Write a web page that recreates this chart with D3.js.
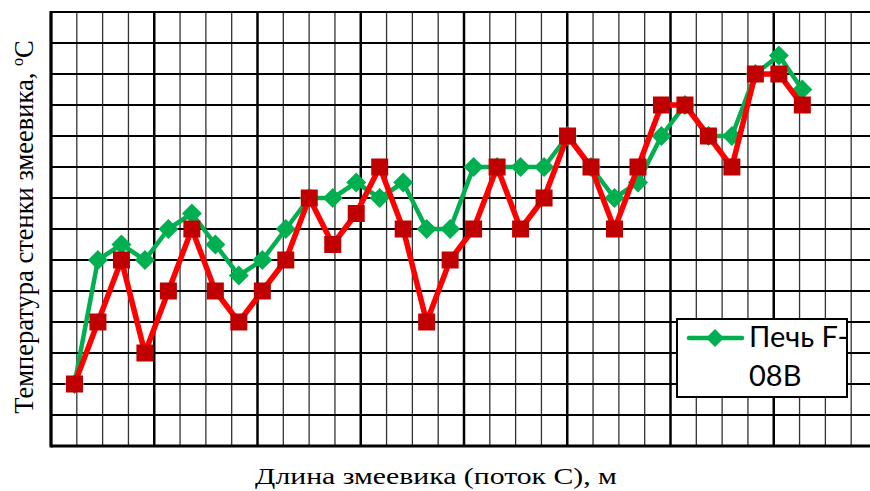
<!DOCTYPE html>
<html>
<head>
<meta charset="utf-8">
<script src="https://cdn.jsdelivr.net/npm/d3@7"></script>
<style>
  html, body { margin: 0; padding: 0; background: #fff; }
  svg { display: block; }
</style>
</head>
<body>
<svg id="chart" width="870" height="491"></svg>
<script>
// ---- data (values in chart grid units) ----
const categories = [1,2,3,4,5,6,7,8,9,10,11,12,13,14,15,16,17,18,19,20,21,22,23,24,25,26,27,28,29,30,31,32];
const greenValues = [2,6,6.5,6,7,7.5,6.5,5.5,6,7,8,8,8.5,8,8.5,7,7,9,9,9,9,10,9,8,8.5,10,11,10,10,12,12.6,11.5];
const redValues   = [2,4,6,3,5,7,5,4,5,6,8,6.5,7.5,9,7,4,6,7,9,7,8,10,9,7,9,11,11,10,9,12,12,11];
const yDomain = [0, 14];
const gridColumns = 32;
const legendLines = ["Печь F-", "08B"];
const xTitle = "Длина змеевика (поток С), м";
const yTitleMain = "Температура стенки змеевика, ";
const yTitleSup = "o";
const yTitleEnd = "С";

// ---- layout ----
const svg = d3.select("#chart");
const L = 51, R = 877, T = 12, B = 446;

const x = d3.scaleLinear().domain([0, 35.18]).range([L, R]);
const gx = d3.scaleLinear().domain([0, gridColumns]).range([L, R]);
const y = d3.scaleLinear().domain(yDomain).range([B, T]);

const grid = svg.append("g");
// vertical grid
grid.selectAll("line.v").data(d3.range(gridColumns + 1)).join("line")
  .attr("x1", d => gx(d)).attr("x2", d => gx(d))
  .attr("y1", T).attr("y2", B)
  .attr("stroke", d => d % 4 === 0 ? "#000" : "#333")
  .attr("stroke-width", d => d % 4 === 0 ? 2.5 : 1.3);
// horizontal grid
grid.selectAll("line.h").data(y.ticks(14)).join("line")
  .attr("x1", L).attr("x2", R)
  .attr("y1", d => y(d)).attr("y2", d => y(d))
  .attr("stroke", "#000")
  .attr("stroke-width", d => d === 0 ? 3 : 2);
// left axis line
grid.append("line").attr("x1", L).attr("x2", L).attr("y1", T - 1).attr("y2", B + 1.5)
  .attr("stroke", "#000").attr("stroke-width", 3);

// ---- series ----
const greenColor = "#00B050";
const redLine = "#FF0000";
const redMarker = "#C00000";

const line = (vals) => d3.line().x((d, i) => x(categories[i])).y(d => y(d))(vals);

svg.append("path").attr("d", line(greenValues))
  .attr("fill", "none").attr("stroke", greenColor).attr("stroke-width", 4.5)
  .attr("stroke-linejoin", "round");
const dSize = 10;
svg.append("g").selectAll("path").data(greenValues).join("path")
  .attr("d", `M0,${-dSize} L${dSize},0 L0,${dSize} L${-dSize},0 Z`)
  .attr("transform", (d, i) => `translate(${x(categories[i])},${y(d)})`)
  .attr("fill", greenColor);

svg.append("path").attr("d", line(redValues))
  .attr("fill", "none").attr("stroke", redLine).attr("stroke-width", 5.5)
  .attr("stroke-linejoin", "round");
const sq = 17;
svg.append("g").selectAll("rect").data(redValues).join("rect")
  .attr("x", (d, i) => x(categories[i]) - sq / 2)
  .attr("y", d => y(d) - sq / 2)
  .attr("width", sq).attr("height", sq)
  .attr("fill", redMarker);

// ---- legend ----
const lg = svg.append("g");
lg.append("rect").attr("x", 677).attr("y", 319).attr("width", 170).attr("height", 78)
  .attr("fill", "#fff").attr("stroke", "#000").attr("stroke-width", 2);
lg.append("line").attr("x1", 689).attr("x2", 742).attr("y1", 338).attr("y2", 338)
  .attr("stroke", greenColor).attr("stroke-width", 4.5).attr("stroke-linecap", "round");
lg.append("path").attr("d", `M0,-9 L9,0 L0,9 L-9,0 Z`)
  .attr("transform", "translate(715,338)").attr("fill", greenColor);
lg.selectAll("text").data(legendLines).join("text")
  .attr("x", 749).attr("y", (d, i) => 347 + i * 39)
  .attr("font-family", "Lato, 'Open Sans', sans-serif")
  .attr("font-size", 29)
  .attr("fill", "#000")
  .text(d => d);

// ---- axis titles ----
svg.append("text")
  .attr("transform", "translate(436,484) scale(1.24,1)")
  .attr("text-anchor", "middle")
  .attr("font-family", "'Liberation Serif', 'Times New Roman', serif")
  .attr("font-size", 24)
  .attr("fill", "#000")
  .text(xTitle);

const yt = svg.append("text")
  .attr("transform", "translate(33,227) rotate(-90)")
  .attr("text-anchor", "middle")
  .attr("font-family", "'Liberation Serif', 'Times New Roman', serif")
  .attr("font-size", 26.5)
  .attr("fill", "#000");
yt.append("tspan").text(yTitleMain);
yt.append("tspan").attr("font-size", 16).attr("dy", -10).text(yTitleSup);
yt.append("tspan").attr("dy", 10).text(yTitleEnd);
</script>
</body>
</html>
